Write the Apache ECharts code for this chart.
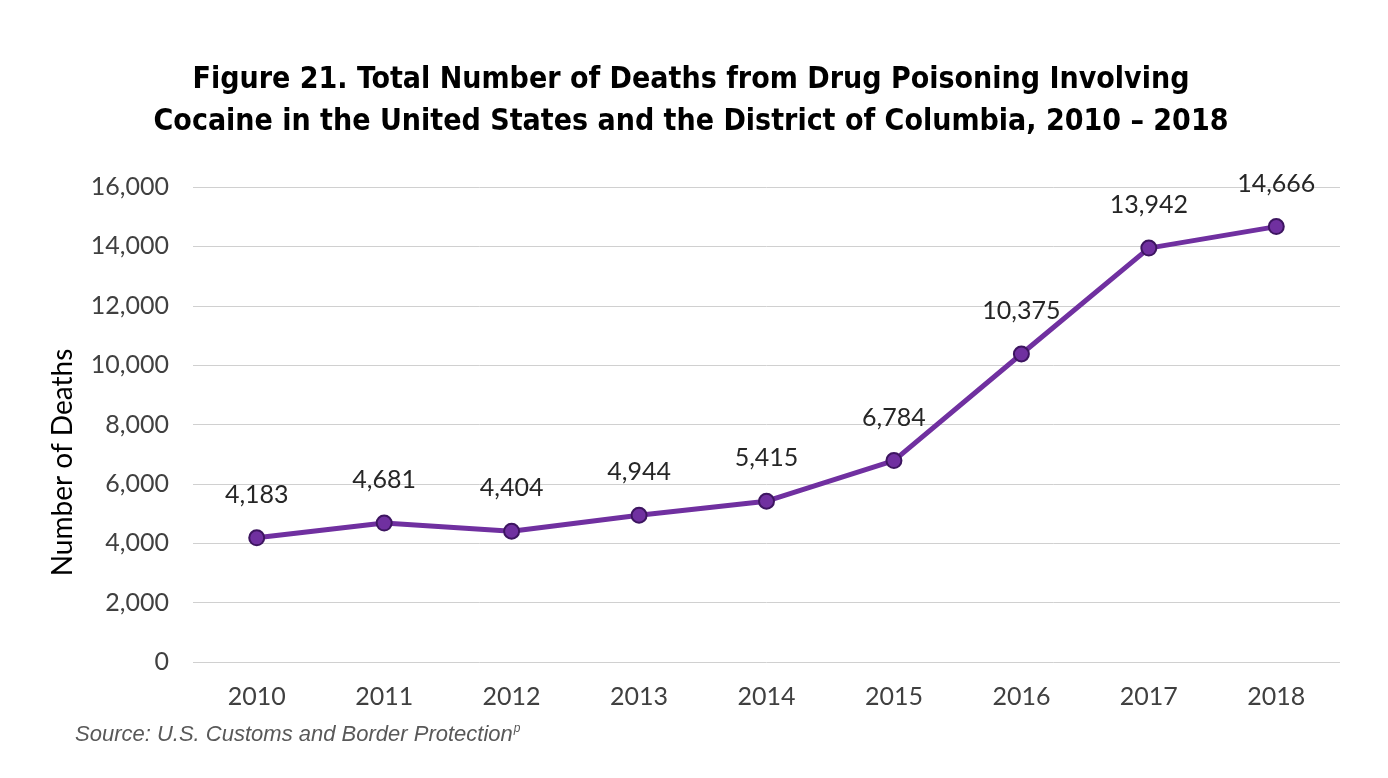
<!DOCTYPE html>
<html><head><meta charset="utf-8">
<script src="https://cdn.jsdelivr.net/npm/echarts@6/dist/echarts.min.js"></script>
<style>html,body{margin:0;padding:0;background:#fff}#c{width:1388px;height:778px}</style>
</head><body><div id="c"></div>
<script>
const years = ['2010','2011','2012','2013','2014','2015','2016','2017','2018'];
const deaths = [4183, 4681, 4404, 4944, 5415, 6784, 10375, 13942, 14666];
const titleLines = ['Figure 21. Total Number of Deaths from Drug Poisoning Involving', 'Cocaine in the United States and the District of Columbia, 2010 – 2018'];
const yAxisName = 'Number of Deaths';
const sourceText = 'Source: U.S. Customs and Border Protection';
const sourceSup = 'p';

const chart = echarts.init(document.getElementById('c'), null, {renderer:'canvas'});
chart.setOption({
  backgroundColor:'#fff',
  title:[{
    text: titleLines.join('\n'), left: 686, top: 54, textAlign:'center',
    textStyle:{fontFamily:'"Liberation Sans Narrow", "DejaVu Sans Condensed", sans-serif', fontWeight:'bold', fontSize:30, lineHeight:42, color:'#000'}
  },{
    text: '{a|' + sourceText + '}{b|' + sourceSup + '}', left: 70, top: 718,
    textStyle:{fontWeight:'normal', rich:{
      a:{fontFamily:'"Liberation Sans", Arial, sans-serif', fontStyle:'italic', fontWeight:'normal', fontSize:22, color:'#595959', verticalAlign:'bottom'},
      b:{fontFamily:'"Liberation Sans", Arial, sans-serif', fontStyle:'italic', fontWeight:'normal', fontSize:12, color:'#595959', verticalAlign:'top', padding:[0,0,11,1]}
    }}
  }],
  grid:{left:193, right:48, top:187, bottom:116, containLabel:false},
  xAxis:{
    type:'category', data: years, boundaryGap:true,
    axisLine:{show:false}, axisTick:{show:false},
    axisLabel:{fontFamily:'Lato, "Open Sans", sans-serif', fontSize:25, color:'#404040', margin:22}
  },
  yAxis:{
    type:'value', min:0, max:16000, interval:2000,
    name: yAxisName, nameLocation:'middle', nameGap:116,
    nameTextStyle:{fontFamily:'Lato, "Open Sans", sans-serif', fontSize:28, color:'#000', padding:[0,76,0,0]},
    axisLine:{show:false}, axisTick:{show:false},
    axisLabel:{fontFamily:'Lato, "Open Sans", sans-serif', fontSize:25, color:'#404040', margin:24,
      formatter: v => v.toLocaleString('en-US')},
    splitLine:{lineStyle:{color:'#d0d0d0', width:1}}
  },
  series:[{
    type:'line', data: deaths,
    lineStyle:{color:'#7030A0', width:5},
    symbol:'circle', symbolSize:15,
    itemStyle:{color:'#7030A0', borderColor:'#3d1560', borderWidth:2},
    label:{show:true, position:'top', distance:22, fontFamily:'Lato, "Open Sans", sans-serif', fontSize:25, color:'#262626',
      formatter: p => p.value.toLocaleString('en-US')},
    animation:false
  }]
});
</script></body></html>
